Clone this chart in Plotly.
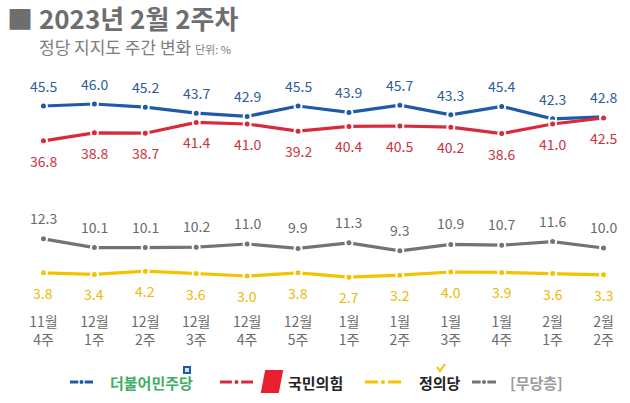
import plotly.graph_objects as go

weeks = ["11월<br>4주", "12월<br>1주", "12월<br>2주", "12월<br>3주", "12월<br>4주", "12월<br>5주",
         "1월<br>1주", "1월<br>2주", "1월<br>3주", "1월<br>4주", "2월<br>1주", "2월<br>2주"]
democratic = [45.5, 46.0, 45.2, 43.7, 42.9, 45.5, 43.9, 45.7, 43.3, 45.4, 42.3, 42.8]
ppp = [36.8, 38.8, 38.7, 41.4, 41.0, 39.2, 40.4, 40.5, 40.2, 38.6, 41.0, 42.5]
justice = [3.8, 3.4, 4.2, 3.6, 3.0, 3.8, 2.7, 3.2, 4.0, 3.9, 3.6, 3.3]
independent = [12.3, 10.1, 10.1, 10.2, 11.0, 9.9, 11.3, 9.3, 10.9, 10.7, 11.6, 10.0]
party_names = ["더불어민주당", "국민의힘", "정의당", "[무당층]"]

FONT = "Noto Sans CJK KR"
xs = list(range(len(weeks)))

series = [
    (party_names[0], democratic, "#1f5aa6", "#2c5d98", 20, "#3fae62"),
    (party_names[1], ppp, "#d92a3c", "#c8343f", -20, "#222222"),
    (party_names[2], justice, "#f3c300", "#ebbb00", -20, "#222222"),
    (party_names[3], independent, "#737373", "#6a6a6a", 21, "#9a9a9a"),
]

fig = go.Figure()
annotations = []
shapes = []

# plot area: x px 18..629, y px 88..288
def px(xp):
    return (xp - 18) / 611

def py(yp):
    return (288 - yp) / 200

# legend layout (pixel positions of symbol start/end and text start)
legend_pos = [(70, 93, 108), (220, 253, 286), (365, 401, 417), (472, 496, 508)]
LY = 382

for (name, vals, col, tcol, shift, lcol), (s0, s1, t0) in zip(series, legend_pos):
    fig.add_trace(go.Scatter(
        x=xs, y=vals, name=name, mode="lines+markers",
        line=dict(color=col, width=3.2),
        marker=dict(color=col, size=7, line=dict(color="white", width=2)),
        hoverinfo="skip", showlegend=False,
    ))
    for x, v in zip(xs, vals):
        annotations.append(dict(x=x, y=v, xref="x", yref="y", text=f"{v:.1f}",
                                showarrow=False, yshift=shift,
                                font=dict(family=FONT, size=14, color=tcol)))
    # manual legend symbol: dash - dot - dash
    mid = (s0 + s1) / 2
    seg = (s1 - s0) * 0.36
    shapes.append(dict(type="line", xref="paper", yref="paper", x0=px(s0), x1=px(s0 + seg),
                       y0=py(LY), y1=py(LY), line=dict(color=col, width=3)))
    shapes.append(dict(type="line", xref="paper", yref="paper", x0=px(s1 - seg), x1=px(s1),
                       y0=py(LY), y1=py(LY), line=dict(color=col, width=3)))
    shapes.append(dict(type="circle", xref="paper", yref="paper", x0=px(mid - 2), x1=px(mid + 2),
                       y0=py(LY + 2), y1=py(LY - 2), fillcolor=col, line=dict(width=0)))
    annotations.append(dict(xref="paper", yref="paper", x=px(t0), y=py(LY), xanchor="left",
                            yanchor="middle", text=f"<b>{name}</b>", showarrow=False,
                            font=dict(family=FONT, size=15, color=lcol)))

# small party logos
shapes.append(dict(type="rect", xref="paper", yref="paper", x0=px(183), x1=px(191),
                   y0=py(374), y1=py(366), fillcolor="#1f5aa6", line=dict(width=0)))
shapes.append(dict(type="rect", xref="paper", yref="paper", x0=px(185), x1=px(189),
                   y0=py(372), y1=py(368), fillcolor="#cfe0f4", line=dict(width=0)))
logo_path = "M {:.4f} {:.4f} L {:.4f} {:.4f} L {:.4f} {:.4f} L {:.4f} {:.4f} Z".format(
    px(266), py(371), px(282), py(371), px(278), py(392), px(262), py(392))
shapes.append(dict(type="path", xref="paper", yref="paper", path=logo_path,
                   fillcolor="#e8202f", line=dict(color="#e8202f", width=2)))
check_path = "M {:.4f} {:.4f} L {:.4f} {:.4f} L {:.4f} {:.4f}".format(
    px(437), py(367), px(440), py(371), px(445), py(364))
shapes.append(dict(type="path", xref="paper", yref="paper", path=check_path,
                   line=dict(color="#f3c300", width=2)))

annotations.append(dict(xref="paper", yref="paper", x=px(5), y=py(17.5), xanchor="left", yanchor="middle",
                        text="<b>■ 2023년 2월 2주차</b>", showarrow=False,
                        font=dict(family=FONT, size=26, color="#6e6e6e")))
annotations.append(dict(xref="paper", yref="paper", x=px(37), y=py(46.5), xanchor="left", yanchor="middle",
                        text="정당 지지도 주간 변화 <span style='font-size:11px'>단위: %</span>", showarrow=False,
                        font=dict(family=FONT, size=17, color="#7d7d7d")))

fig.update_layout(
    width=630, height=403,
    margin=dict(l=18, r=1, t=88, b=115),
    paper_bgcolor="white", plot_bgcolor="white",
    showlegend=False,
    annotations=annotations,
    shapes=shapes,
    font=dict(family=FONT),
)
fig.update_xaxes(range=[-0.5, 11.5], tickvals=xs, ticktext=weeks, showgrid=False, zeroline=False,
                 showline=False, ticks="", ticklabelstandoff=24,
                 tickfont=dict(family=FONT, size=14, color="#6b6b6b"), fixedrange=True)
fig.update_yaxes(range=[0, 50], visible=False, fixedrange=True)

fig.write_html("out.html")
